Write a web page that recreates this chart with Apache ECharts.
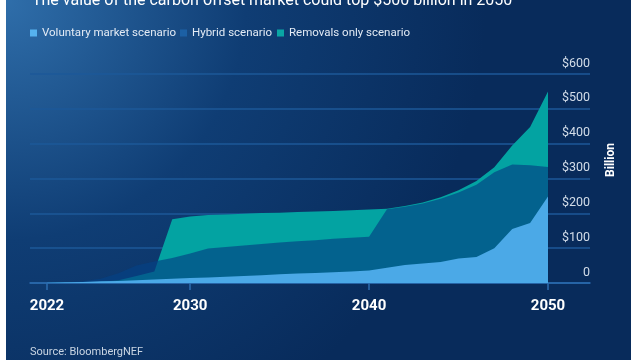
<!DOCTYPE html>
<html>
<head>
<meta charset="utf-8">
<script src="https://cdn.jsdelivr.net/npm/echarts@6/dist/echarts.min.js"></script>
<style>
  html, body { margin: 0; padding: 0; background: #ffffff; width: 640px; height: 360px; overflow: hidden; }
  #chart { position: absolute; left: 6px; top: 0; width: 625px; height: 360px; }
</style>
</head>
<body>
<div id="chart"></div>
<script>
const years = [2022,2023,2024,2025,2026,2027,2028,2029,2030,2031,2032,2033,2034,2035,2036,2037,2038,2039,2040,2041,2042,2043,2044,2045,2046,2047,2048,2049,2050];
const voluntary = [1,2,3,5,6,8,10,12,14,16,18,20,22,25,27,29,31,33,36,44,52,56,60,70,75,100,155,172,248];
const hybrid = [0.5,2,5,12,28,50,62,72,85,99,103,108,112,116,120,123,127,130,133,212,219,228,242,260,282,318,340,338,333];
const removals = [0,0.5,1,3,8,20,33,183,191,195,197,199,201,202,204,205,207,209,211,213,221,231,246,266,293,332,395,448,550];
const seriesNames = ['Voluntary market scenario','Hybrid scenario','Removals only scenario'];
const xTickYears = [2022,2030,2040,2050];
const yTickValues = [0,100,200,300,400,500,600];
const yTickLabels = ['0','$100','$200','$300','$400','$500','$600'];
const titleText = 'The value of the carbon offset market could top $500 billion in 2050';
const sourceText = 'Source: BloombergNEF';
const unitText = 'Billion';

const pair = (arr) => years.map((y, i) => [y, arr[i]]);
const FONT = 'Roboto, "Liberation Sans", sans-serif';

const chart = echarts.init(document.getElementById('chart'), null, {renderer: 'canvas'});
chart.setOption({
  animation: false,
  backgroundColor: {
    type: 'radial', x: 0, y: 0, r: 480, global: true,
    colorStops: [
      {offset: 0, color: '#2f6eaa'},
      {offset: 0.5, color: '#0f3d74'},
      {offset: 1, color: '#082b5b'}
    ]
  },
  textStyle: {fontFamily: FONT},
  grid: {left: 24, right: 41, top: 74, bottom: 77},
  legend: [
    {data: [{name: seriesNames[0], itemStyle: {color: '#56b2ee'}}], left: 24, top: 27, padding: 0},
    {data: [{name: seriesNames[1], itemStyle: {color: '#1c60a4'}}], left: 174, top: 27, padding: 0},
    {data: [{name: seriesNames[2], itemStyle: {color: '#0aa6a4'}}], left: 271, top: 27, padding: 0}
  ].map(l => Object.assign(l, {
    icon: 'rect', itemWidth: 7, itemHeight: 7, itemGap: 10,
    textStyle: {color: '#e3ebf5', fontSize: 11.5, fontFamily: FONT, padding: [0, 0, 0, 0]},
    selectedMode: false
  })),
  xAxis: {
    type: 'value',
    min: 2021.05,
    max: 2052.347,
    splitLine: {show: false},
    axisLine: {show: true, lineStyle: {color: '#2d6cb0', width: 1.5}},
    axisTick: {show: true, customValues: xTickYears, length: 7, lineStyle: {color: '#2d6cb0', width: 1.5}},
    axisLabel: {
      customValues: xTickYears, color: '#ffffff', fontSize: 15, fontWeight: 'bold',
      margin: 16, fontFamily: FONT,
      formatter: (v) => String(Math.round(v))
    }
  },
  yAxis: {
    type: 'value',
    position: 'right',
    min: 0, max: 600, interval: 100,
    axisLine: {show: false},
    axisTick: {show: false},
    splitLine: {lineStyle: {color: '#1d5899', width: 1.5}},
    axisLabel: {
      inside: true, margin: 0, align: 'right', verticalAlign: 'bottom',
      padding: [0, 0, 4, 0],
      color: '#d3dde9', fontSize: 12.5, fontFamily: FONT,
      formatter: (v) => yTickLabels[yTickValues.indexOf(v)]
    }
  },
  series: [
    {
      name: seriesNames[2], type: 'line', data: pair(removals),
      symbol: 'none', lineStyle: {width: 0}, color: '#0aa6a4',
      areaStyle: {color: '#03a3a2', opacity: 1}, z: 2
    },
    {
      name: seriesNames[1], type: 'line', data: pair(hybrid),
      symbol: 'none', lineStyle: {width: 0}, color: '#1c60a4',
      areaStyle: {color: 'rgb(5,65,133)', opacity: 0.67}, z: 3
    },
    {
      name: seriesNames[0], type: 'line', data: pair(voluntary),
      symbol: 'none', lineStyle: {width: 0}, color: '#56b2ee',
      areaStyle: {color: '#4ba9e7', opacity: 1}, z: 4
    }
  ],
  graphic: [
    {type: 'text', x: 26, y: 9, silent: true,
     style: {text: titleText, fill: '#ffffff', font: '16px ' + FONT, verticalAlign: 'bottom'}},
    {type: 'text', x: 24, y: 352, silent: true,
     style: {text: sourceText, fill: '#c9d5e3', font: '11px ' + FONT, verticalAlign: 'middle'}},
    {type: 'text', x: 605, y: 160, rotation: Math.PI / 2, silent: true,
     style: {text: unitText, fill: '#ffffff', font: 'bold 12px ' + FONT, align: 'center', verticalAlign: 'middle'}}
  ]
});
</script>
</body>
</html>
